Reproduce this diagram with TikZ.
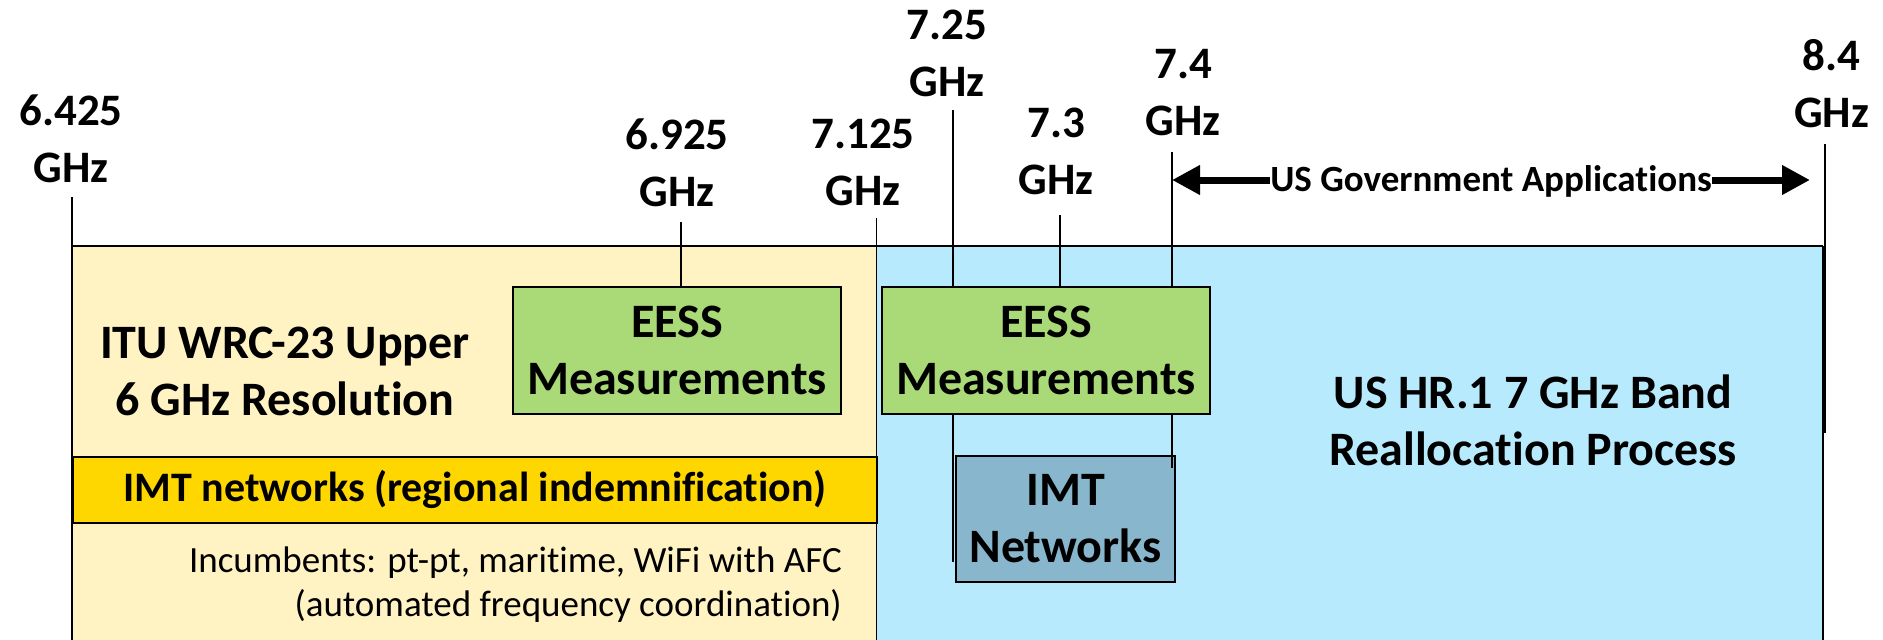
\documentclass[tikz,border=0pt]{standalone}
\usepackage{fontspec}
\setmainfont{Carlito}[Ligatures={NoCommon}]
\usetikzlibrary{arrows.meta}
\definecolor{bandyellow}{HTML}{FFF3C3}
\definecolor{bandblue}{HTML}{B7EAFD}
\definecolor{eessgreen}{HTML}{A9DA77}
\definecolor{imtblue}{HTML}{88B6CD}
\definecolor{goldband}{HTML}{FFD700}
\begin{document}
\begin{tikzpicture}[x=1pt,y=-1pt,
  freq/.style={font=\fontsize{45}{57}\selectfont\bfseries, align=center, inner sep=0pt},
  biglabel/.style={font=\fontsize{48}{57}\selectfont\bfseries, align=center, inner sep=0pt},
  eessbox/.style={biglabel, draw, line width=2pt, fill=eessgreen, minimum width=328pt, minimum height=127pt},
  imtbox/.style={biglabel, draw, line width=2pt, fill=imtblue, minimum width=219pt, minimum height=126pt},
  goldbox/.style={draw, line width=1.8pt, fill=goldband, minimum width=804.5pt, minimum height=66pt, inner sep=0pt,
    font=\fontsize{42}{50}\selectfont\bfseries},
  tick/.style={line width=1.6pt},
  frameline/.style={line width=2pt},
  govarrow/.style={line width=7pt, -{Triangle[length=28pt,width=28pt]}},
  smalltext/.style={font=\fontsize{37}{44}\selectfont, align=right, inner sep=0pt}
]
\useasboundingbox (0,0) rectangle (1883,640);

% background bands
\fill[bandyellow] (72,246) rectangle (876.5,640);
\fill[bandblue] (876.5,246) rectangle (1823,640);

% gold band
\node[goldbox, anchor=north west] (band) at (72,456) {IMT networks (regional indemnification)};

% frame lines
\draw[frameline] (72,246) -- (1823,246);
\draw[line width=1.5pt] (1823,246) -- (1823,640);

% tick coordinates
\coordinate (k6425) at (72,197);
\coordinate (k6925) at (681,222);
\coordinate (k7125) at (876.5,218);
\coordinate (k725) at (953,110);
\coordinate (k73) at (1060,215);
\coordinate (k74) at (1172,152);
\coordinate (k84) at (1825,144);
\coordinate (e84) at (1825,433);
\coordinate (e725) at (953,562);
\coordinate (e74) at (1172,468);

% boxes
\node[eessbox] (eessL) at (677,350.5) {EESS\\Measurements};
\node[eessbox] (eessR) at (1046,350.5) {EESS\\Measurements};
\node[imtbox] (imt) at (1065.5,519) {IMT\\Networks};

% ticks
\draw[tick] (k6425) -- (k6425 |- 0,640);
\draw[tick] (k6925) -- (k6925 |- eessL.north);
\draw[tick] (k7125) -- (k7125 |- 0,640);
\draw[tick] (k725) -- (k725 |- eessR.north);
\draw[tick] (k73) -- (k73 |- eessR.north);
\draw[tick] (k74) -- (k74 |- eessR.north);
\draw[tick] (e725 |- eessR.south) -- (e725);
\draw[tick] (e74 |- eessR.south) -- (e74);
\draw[tick] (k84) -- (e84);

% frequency labels
\node[freq] (f6425) at (71,138.5) {6.425\\GHz};
\node[freq] (f6925) at (677,162.5) {6.925\\GHz};
\node[freq] (f7125) at (863,162) {7.125\\GHz};
\node[freq] (f725) at (947,53.5) {7.25\\GHz};
\node[freq] (f73) at (1056,151) {7.3\\GHz};
\node[freq] (f74) at (1183,93) {7.4\\GHz};
\node[freq] (f84) at (1831.5,84) {8.4\\GHz};

% region labels
\node[biglabel] (itu) at (285,371.5) {ITU WRC-23 Upper\\6 GHz Resolution};
\node[biglabel] (hr1) at (1533,420) {US HR.1 7 GHz Band\\Reallocation Process};
\node[smalltext, anchor=east] (inc) at (842,584.5) {Incumbents: pt-pt, maritime, WiFi with AFC\\(automated frequency coordination)};

% government applications arrow
\node[font=\fontsize{37}{44}\selectfont\bfseries, inner sep=0pt] (gov) at (1491,181) {US Government Applications};
\coordinate (g74) at (1172,180);
\coordinate (g84) at (1810,180);
\draw[govarrow] (gov.west |- g74) -- (g74);
\draw[govarrow] (gov.east |- g84) -- (g84);
\end{tikzpicture}
\end{document}
